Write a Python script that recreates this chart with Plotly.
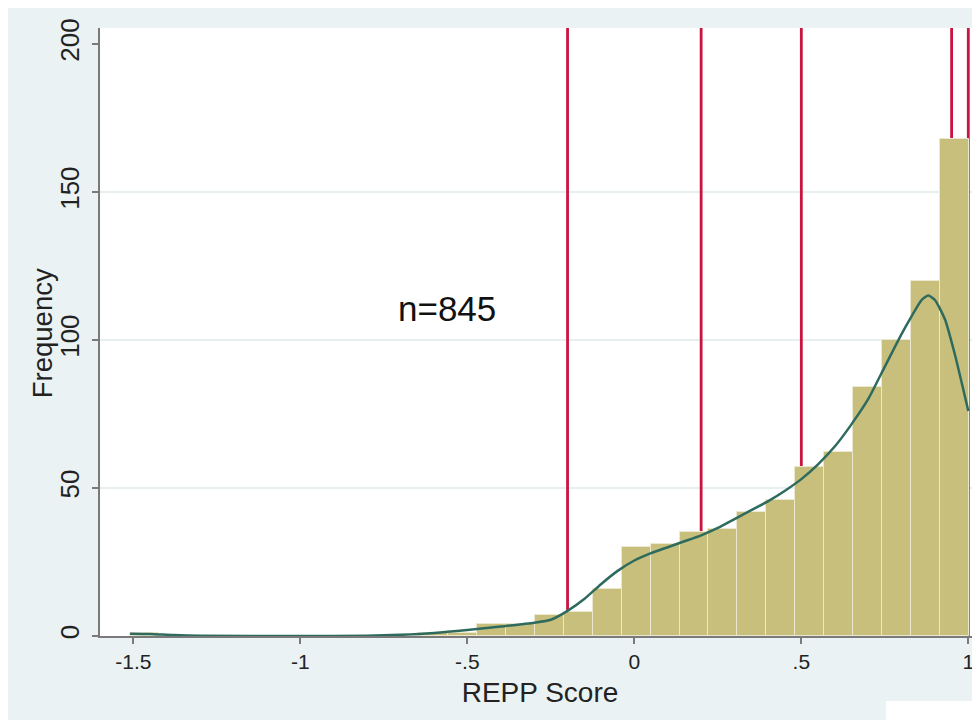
import plotly.graph_objects as go

# ---- data ----
bin_start = -1.51
bin_width = 0.0866
frequencies = [1, 0, 0, 0, 0, 0, 0, 0, 0, 0,
               1, 1, 4, 4, 7, 8, 16, 30, 31, 35,
               36, 42, 46, 57, 62, 84, 100, 120, 168]

curve_x = [-1.51, -1.45, -1.38, -1.3, -1.0, -0.8, -0.7, -0.6, -0.5, -0.4,
           -0.3, -0.25, -0.2, -0.15, -0.1, -0.05, 0.0, 0.05, 0.1, 0.15,
           0.2, 0.25, 0.3, 0.35, 0.4, 0.45, 0.5, 0.55, 0.6, 0.65,
           0.7, 0.75, 0.8, 0.83, 0.86, 0.88, 0.9, 0.93, 0.96, 1.0]
curve_y = [0.8, 0.7, 0.3, 0.05, 0.0, 0.1, 0.4, 1.0, 2.0, 3.2,
           4.5, 5.5, 8.5, 12.5, 17.5, 22.0, 25.5, 28.0, 30.0, 32.0,
           34.0, 36.5, 39.5, 42.5, 45.5, 49.0, 53.0, 58.0, 64.0, 71.5,
           80.0, 91.0, 102.0, 108.0, 113.5, 115.0, 113.5, 107.0, 95.0, 76.0]

cutoffs = [-0.2, 0.2, 0.5, 0.95, 1.0]
grid_vals = [50, 100, 150]

x_tickvals = [-1.5, -1.0, -0.5, 0.0, 0.5, 1.0]
x_ticktext = ["-1.5", "-1", "-.5", "0", ".5", "1"]
y_tickvals = [0, 50, 100, 150, 200]
y_ticktext = ["0", "50", "100", "150", "200"]

x_title = "REPP Score"
y_title = "Frequency"
n_label = "n=845"

# ---- figure ----
centers = [bin_start + (i + 0.5) * bin_width for i in range(len(frequencies))]

BAR = "#C8BF7C"
CURVE = "#2E6B5E"
RED = "#C9143F"
BG = "#EAF2F3"
GRID = "#DFEAEC"
AXIS = "#7A7A7A"
FONT = "Liberation Sans, Arial, sans-serif"

fig = go.Figure()
fig.add_trace(go.Bar(
    x=centers, y=frequencies, width=bin_width,
    marker=dict(color=BAR, line=dict(color="#ECE8CF", width=1)),
    hoverinfo="skip", showlegend=False,
))
fig.add_trace(go.Scatter(
    x=curve_x, y=curve_y, mode="lines",
    line=dict(color=CURVE, width=2.5, shape="spline", smoothing=0.6),
    hoverinfo="skip", showlegend=False,
))

shapes = [
    # white patch bottom-right
    dict(type="rect", xref="paper", yref="paper", x0=0.893, x1=1.05, y0=-0.2, y1=-0.1069,
         fillcolor="white", line=dict(width=0), layer="below"),
]
for g in grid_vals:
    shapes.append(dict(type="line", xref="paper", yref="y", x0=0, x1=1, y0=g, y1=g,
                       line=dict(color=GRID, width=1.5), layer="below"))
for c in cutoffs:
    shapes.append(dict(type="line", xref="x", yref="paper", x0=c, x1=c, y0=0, y1=1,
                       line=dict(color=RED, width=2.8), layer="below"))

fig.update_layout(
    width=972, height=712,
    margin=dict(l=92, r=0, t=20, b=84),
    paper_bgcolor=BG, plot_bgcolor="white",
    bargap=0,
    shapes=shapes,
    font=dict(family=FONT, color="#222222"),
    annotations=[
        dict(x=-0.56, y=110.5, xref="x", yref="y", text=n_label, showarrow=False,
             font=dict(size=35, color="#111111", family=FONT)),
        dict(x=-0.0659, y=0.498, xref="paper", yref="paper", text=y_title, showarrow=False,
             textangle=-90, xanchor="center", yanchor="middle",
             font=dict(size=27.5, color="#222222", family=FONT)),
    ],
)
fig.update_xaxes(
    range=[-1.6, 1.035], showgrid=False, zeroline=False,
    showline=True, linecolor=AXIS, linewidth=1.5,
    ticks="outside", ticklen=6, tickcolor=AXIS, tickwidth=1.5,
    tickvals=x_tickvals, ticktext=x_ticktext,
    tickfont=dict(size=21, color="#222222"),
    title=dict(text=x_title, font=dict(size=28, color="#222222"), standoff=10),
)
fig.update_yaxes(
    range=[0, 205.4], showgrid=False, zeroline=False,
    showline=True, linecolor=AXIS, linewidth=1.5,
    ticks="outside", ticklen=6, tickcolor=AXIS, tickwidth=1.5,
    tickvals=y_tickvals, ticktext=y_ticktext, tickangle=-90,
    ticklabelstandoff=3,
    tickfont=dict(size=26, color="#222222"),
)

fig.write_html("out.html")
